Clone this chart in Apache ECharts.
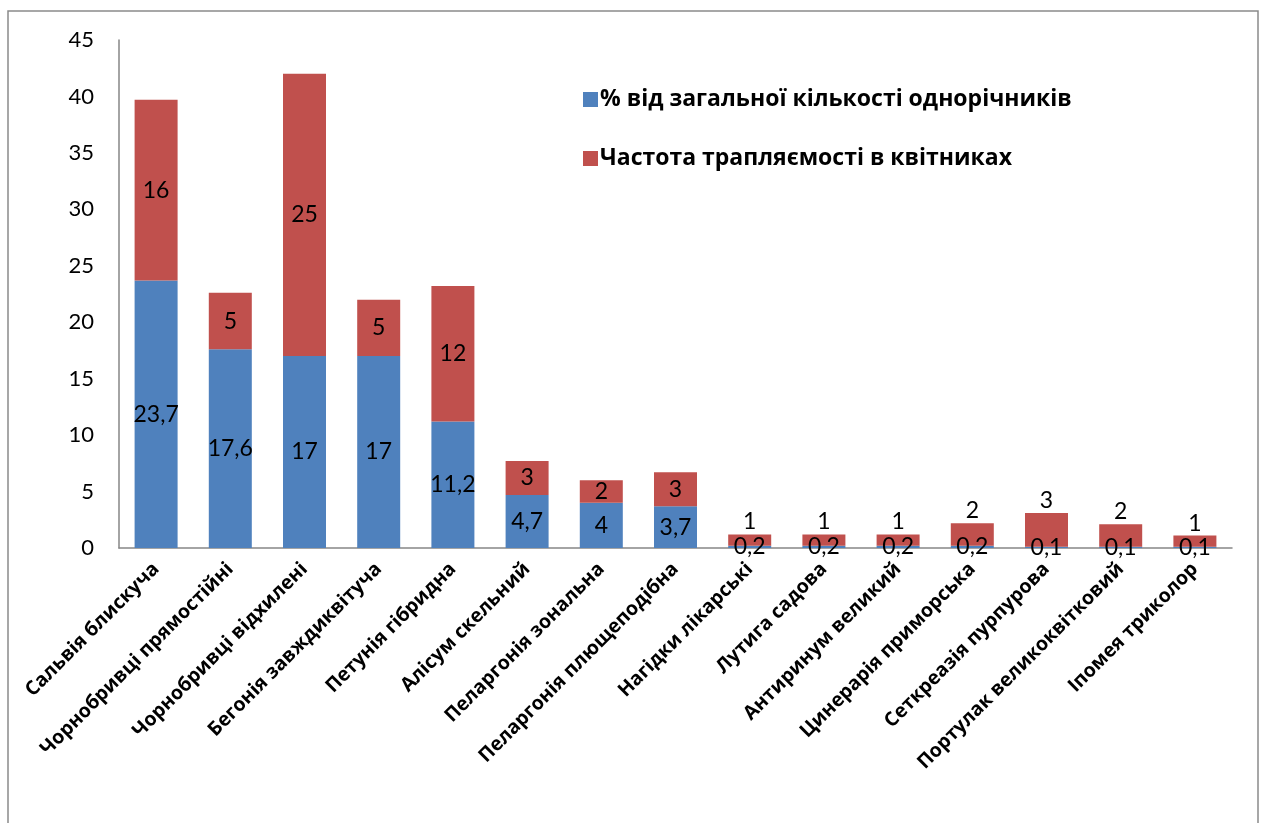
<!DOCTYPE html>
<html><head><meta charset="utf-8">
<script src="https://cdn.jsdelivr.net/npm/echarts@6/dist/echarts.min.js"></script>
<style>html,body{margin:0;padding:0;background:#fff}#c{width:1265px;height:823px}</style>
</head><body><div id="c"></div>
<script>
const categories = ["Сальвія блискуча","Чорнобривці прямостійні","Чорнобривці відхилені","Бегонія завждиквітуча","Петунія гібридна","Алісум скельний","Пеларгонія зональна","Пеларгонія плющеподібна","Нагідки лікарські","Лутига садова","Антиринум великий","Цинерарія приморська","Сеткреазія пурпурова","Портулак великоквітковий","Іпомея триколор"];
const percentValues = [23.7,17.6,17,17,11.2,4.7,4,3.7,0.2,0.2,0.2,0.2,0.1,0.1,0.1];
const frequencyValues = [16,5,25,5,12,3,2,3,1,1,1,2,3,2,1];
const seriesNames = ["% від загальної кількості однорічників","Частота трапляємості в квітниках"];
const yTicks = {min:0,max:45,interval:5};

const NUMFONT = "Lato";
const TXTFONT = "Open Sans";
const fmt = v => String(v).replace('.', ',');
const chart = echarts.init(document.getElementById('c'));
const redData = frequencyValues.map((v,i)=> percentValues[i] < 1
  ? {value:v, label:{position:'top', distance:1}}
  : v);
chart.setOption({
  animation:false,
  graphic:[{type:'rect',shape:{x:8,y:11,width:1250,height:830},style:{fill:'none',stroke:'#8a8a8a',lineWidth:1.5},silent:true}],
  grid:{left:119,top:40,right:33,bottom:275,containLabel:false},
  legend:{orient:'vertical',left:578,top:83,itemGap:36,itemWidth:15,itemHeight:15,icon:'rect',
    textStyle:{fontFamily:TXTFONT,fontWeight:'bold',fontSize:23,color:'#000',padding:[0,0,0,-3]},data:seriesNames},
  xAxis:{type:'category',data:categories,
    axisLine:{lineStyle:{color:'#868686',width:1.5}},axisTick:{show:false},
    axisLabel:{interval:0,rotate:45,margin:18,fontFamily:TXTFONT,fontWeight:'bold',fontSize:19.5,color:'#000'}},
  yAxis:{type:'value',min:yTicks.min,max:yTicks.max,interval:yTicks.interval,
    axisLine:{show:true,lineStyle:{color:'#868686',width:1.5}},axisTick:{show:false},splitLine:{show:false},
    axisLabel:{margin:25,fontFamily:NUMFONT,fontSize:22,color:'#000'}},
  series:[
    {name:seriesNames[0],type:'bar',stack:'a',barWidth:43,data:percentValues,itemStyle:{color:'#4F81BD'},
     label:{show:true,position:'inside',fontFamily:NUMFONT,fontSize:23,color:'#000',formatter:p=>fmt(p.value)}},
    {name:seriesNames[1],type:'bar',stack:'a',barWidth:43,data:redData,itemStyle:{color:'#C0504D'},
     label:{show:true,position:'inside',fontFamily:NUMFONT,fontSize:23,color:'#000',formatter:p=>fmt(p.value)}}
  ]
});
</script></body></html>
